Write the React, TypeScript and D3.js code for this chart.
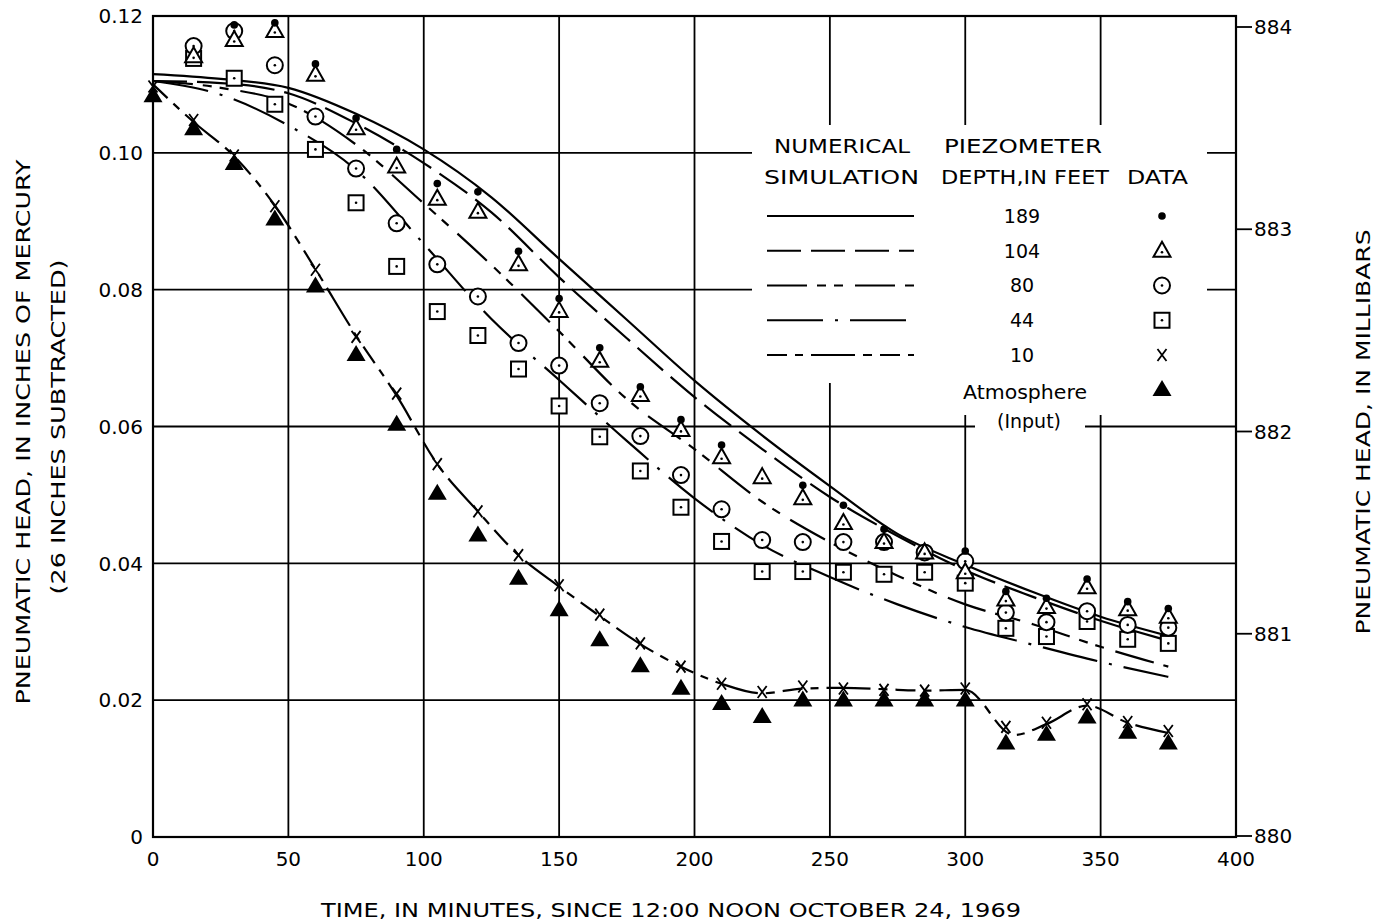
import { useEffect, useRef } from 'react'
import * as d3 from 'd3'

// observation times, minutes since noon
const times = [0, 15, 30, 45, 60, 75, 90, 105, 120, 135, 150, 165, 180, 195, 210, 225, 240, 255, 270, 285, 300, 315, 330, 345, 360, 375]

// piezometer data, inches of mercury (26 in. subtracted)
const atmosphere = [0.1084, 0.1036, 0.0985, 0.0904, 0.0806, 0.0706, 0.0604, 0.0503, 0.0442, 0.0379, 0.0333, 0.0289, 0.0251, 0.0218, 0.0196, 0.0177, 0.0201, 0.0201, 0.0201, 0.0201, 0.0201, 0.0138, 0.0151, 0.0176, 0.0154, 0.0138]
const depth10 = [0.1097, 0.1048, 0.0996, 0.0922, 0.0829, 0.0731, 0.0648, 0.0545, 0.0476, 0.0412, 0.0368, 0.0325, 0.0283, 0.0249, 0.0224, 0.0212, 0.0220, 0.0217, 0.0215, 0.0214, 0.0217, 0.0161, 0.0167, 0.0194, 0.0168, 0.0155]
const depth44 = [null, 0.1138, 0.1109, 0.1071, 0.1005, 0.0927, 0.0834, 0.0768, 0.0733, 0.0684, 0.0630, 0.0585, 0.0535, 0.0482, 0.0432, 0.0388, 0.0388, 0.0387, 0.0384, 0.0387, 0.0371, 0.0305, 0.0293, 0.0315, 0.0289, 0.0283]
const depth80 = [null, 0.1156, 0.1178, 0.1128, 0.1053, 0.0977, 0.0897, 0.0837, 0.0790, 0.0722, 0.0689, 0.0634, 0.0586, 0.0529, 0.0479, 0.0434, 0.0431, 0.0431, 0.0431, 0.0416, 0.0403, 0.0328, 0.0314, 0.0330, 0.0310, 0.0306]
const depth104 = [null, 0.1141, 0.1165, 0.1178, 0.1114, 0.1036, 0.0980, 0.0933, 0.0914, 0.0837, 0.0769, 0.0696, 0.0646, 0.0595, 0.0555, 0.0526, 0.0495, 0.0459, 0.0431, 0.0416, 0.0387, 0.0347, 0.0336, 0.0365, 0.0333, 0.0322]
const depth189 = [null, null, 0.1187, 0.1190, 0.1130, 0.1051, 0.1005, 0.0955, 0.0943, 0.0856, 0.0787, 0.0715, 0.0658, 0.0610, 0.0573, null, 0.0514, 0.0485, 0.0450, null, 0.0418, 0.0359, 0.0349, 0.0377, 0.0344, 0.0334]

// numerical simulation curves
const simTimes = [0, 25, 50, 75, 100, 125, 150, 175, 200, 225, 250, 275, 300, 325, 350, 375]
const sim189 = [0.1115, 0.1108, 0.1095, 0.1057, 0.1005, 0.0935, 0.0845, 0.0756, 0.0667, 0.0587, 0.0513, 0.0443, 0.0398, 0.0358, 0.0322, 0.0294]
const sim104 = [0.1105, 0.1102, 0.1087, 0.1043, 0.0985, 0.0913, 0.0818, 0.0729, 0.0643, 0.0567, 0.0497, 0.0440, 0.0390, 0.0351, 0.0316, 0.0287]
const sim80 = [0.1105, 0.1095, 0.1072, 0.1012, 0.0926, 0.0836, 0.0739, 0.0640, 0.0567, 0.0490, 0.0431, 0.0382, 0.0340, 0.0311, 0.0278, 0.0249]
const sim44 = [0.1105, 0.1085, 0.1040, 0.0975, 0.0867, 0.0757, 0.0668, 0.0579, 0.0495, 0.0427, 0.0380, 0.0340, 0.0307, 0.0281, 0.0256, 0.0234]
const sim10Times = [0, 15, 30, 45, 60, 75, 90, 105, 120, 135, 150, 165, 180, 195, 210, 225, 240, 255, 270, 285, 300, 318, 330, 345, 360, 375]
const sim10 = [0.1100, 0.1045, 0.0995, 0.0923, 0.0830, 0.0733, 0.0645, 0.0545, 0.0476, 0.0412, 0.0366, 0.0323, 0.0282, 0.0249, 0.0224, 0.0210, 0.0217, 0.0218, 0.0216, 0.0214, 0.0215, 0.0149, 0.0165, 0.0192, 0.0167, 0.0152]

const xTicks = [0, 50, 100, 150, 200, 250, 300, 350, 400]
const yTicks = [0, 0.02, 0.04, 0.06, 0.08, 0.10, 0.12]
const yTickLabels = ['0', '0.02', '0.04', '0.06', '0.08', '0.10', '0.12']
const mbTicks = [880, 881, 882, 883, 884]
const legendDepths = ['189', '104', '80', '44', '10']

const FONT = "'DejaVu Sans', 'Liberation Sans', sans-serif"

const App = () => {
  const svgRef = useRef(null)
  const W = 1380
  const H = 924
  const margin = { top: 16, right: 144, bottom: 87, left: 153 }
  const width = W - margin.left - margin.right
  const height = H - margin.top - margin.bottom

  useEffect(() => {
    const svg = d3.select(svgRef.current)
    svg.selectAll('*').remove()

    const x = d3.scaleLinear().domain([0, 400]).range([margin.left, margin.left + width])
    const y = d3.scaleLinear().domain([0, 0.12]).range([margin.top + height, margin.top])
    const yMb = d3.scaleLinear().domain([880, 884]).range([836, 27])
    const right = margin.left + width
    const bottom = margin.top + height

    svg.append('rect').attr('width', W).attr('height', H).attr('fill', 'white')

    // grid
    const grid = svg.append('g').attr('stroke', 'black').attr('stroke-width', 1.8)
    xTicks.slice(1, -1).forEach(t => {
      grid.append('line').attr('x1', x(t)).attr('x2', x(t)).attr('y1', margin.top).attr('y2', bottom)
    })
    yTicks.slice(1, -1).forEach(t => {
      grid.append('line').attr('x1', margin.left).attr('x2', right).attr('y1', y(t)).attr('y2', y(t))
    })

    // white area behind the legend
    const mask = svg.append('g').attr('fill', 'white')
    mask.append('rect').attr('x', 752).attr('y', 125).attr('width', 455).attr('height', 258)
    mask.append('rect').attr('x', 845).attr('y', 382).attr('width', 362).attr('height', 33)
    mask.append('rect').attr('x', 975).attr('y', 414).attr('width', 110).attr('height', 20)

    // frame
    svg.append('rect')
      .attr('x', margin.left).attr('y', margin.top)
      .attr('width', width).attr('height', height)
      .attr('fill', 'none').attr('stroke', 'black').attr('stroke-width', 2.2)

    // axis labels
    svg.append('g').selectAll('text').data(xTicks).join('text')
      .attr('x', d => x(d)).attr('y', bottom + 29)
      .attr('text-anchor', 'middle')
      .style('font-family', FONT).style('font-size', '20px')
      .text(d => d)

    svg.append('g').selectAll('text').data(yTicks).join('text')
      .attr('x', margin.left - 10).attr('y', d => y(d)).attr('dy', '0.36em')
      .attr('text-anchor', 'end')
      .style('font-family', FONT).style('font-size', '20px')
      .text((d, i) => yTickLabels[i])

    const mbAxis = svg.append('g')
    mbTicks.forEach(t => {
      mbAxis.append('line').attr('x1', right).attr('x2', right + 16)
        .attr('y1', yMb(t)).attr('y2', yMb(t)).attr('stroke', 'black').attr('stroke-width', 1.8)
      mbAxis.append('text').attr('x', right + 18).attr('y', yMb(t)).attr('dy', '0.36em')
        .style('font-family', FONT).style('font-size', '20px')
        .text(t)
    })

    svg.append('text')
      .attr('x', 671).attr('y', 917)
      .attr('text-anchor', 'middle')
      .attr('textLength', 700).attr('lengthAdjust', 'spacingAndGlyphs')
      .style('font-family', FONT).style('font-size', '19px')
      .text('TIME, IN MINUTES, SINCE 12:00 NOON OCTOBER 24, 1969')

    svg.append('text')
      .attr('transform', 'translate(30,432) rotate(-90)')
      .attr('text-anchor', 'middle')
      .attr('textLength', 545).attr('lengthAdjust', 'spacingAndGlyphs')
      .style('font-family', FONT).style('font-size', '19px')
      .text('PNEUMATIC HEAD, IN INCHES OF MERCURY')

    svg.append('text')
      .attr('transform', 'translate(65,427) rotate(-90)')
      .attr('text-anchor', 'middle')
      .attr('textLength', 335).attr('lengthAdjust', 'spacingAndGlyphs')
      .style('font-family', FONT).style('font-size', '19px')
      .text('(26 INCHES SUBTRACTED)')

    svg.append('text')
      .attr('transform', 'translate(1370,432) rotate(-90)')
      .attr('text-anchor', 'middle')
      .attr('textLength', 405).attr('lengthAdjust', 'spacingAndGlyphs')
      .style('font-family', FONT).style('font-size', '19px')
      .text('PNEUMATIC HEAD, IN MILLIBARS')

    // simulation curves
    const dashes = {
      s189: null,
      s104: '34,10',
      s80: '40,10,9,8,9,12',
      s44: '56,12,3,12',
      s10: '20,8,8,8,44,8,9,8'
    }
    const line = d3.line()
      .x(d => x(d[0]))
      .y(d => y(d[1]))
      .curve(d3.curveMonotoneX)

    const curves = [
      { pts: simTimes.map((t, i) => [t, sim189[i]]), dash: dashes.s189 },
      { pts: simTimes.map((t, i) => [t, sim104[i]]), dash: dashes.s104 },
      { pts: simTimes.map((t, i) => [t, sim80[i]]), dash: dashes.s80 },
      { pts: simTimes.map((t, i) => [t, sim44[i]]), dash: dashes.s44 },
      { pts: sim10Times.map((t, i) => [t, sim10[i]]), dash: dashes.s10 }
    ]
    curves.forEach(c => {
      svg.append('path')
        .datum(c.pts)
        .attr('fill', 'none')
        .attr('stroke', 'black')
        .attr('stroke-width', 2.2)
        .attr('stroke-dasharray', c.dash)
        .attr('d', line)
    })

    // markers
    const centerDot = (g, cx, cy) => g.append('circle').attr('cx', cx).attr('cy', cy).attr('r', 1.3).attr('fill', 'black')
    const markers = {
      dot: (g, cx, cy) => g.append('circle').attr('cx', cx).attr('cy', cy).attr('r', 3.8).attr('fill', 'black'),
      triangle: (g, cx, cy) => {
        g.append('path')
          .attr('d', `M${cx},${cy - 9}L${cx + 8.5},${cy + 6}L${cx - 8.5},${cy + 6}Z`)
          .attr('fill', 'white').attr('stroke', 'black').attr('stroke-width', 2)
        centerDot(g, cx, cy + 1.5)
      },
      circle: (g, cx, cy) => {
        g.append('circle').attr('cx', cx).attr('cy', cy).attr('r', 8)
          .attr('fill', 'white').attr('stroke', 'black').attr('stroke-width', 2)
        centerDot(g, cx, cy)
      },
      square: (g, cx, cy) => {
        g.append('rect').attr('x', cx - 7.5).attr('y', cy - 7.5).attr('width', 15).attr('height', 15)
          .attr('fill', 'white').attr('stroke', 'black').attr('stroke-width', 2)
        centerDot(g, cx, cy)
      },
      cross: (g, cx, cy) => {
        g.append('path')
          .attr('d', `M${cx - 4.5},${cy - 6}L${cx + 4.5},${cy + 6}M${cx + 4.5},${cy - 6}L${cx - 4.5},${cy + 6}`)
          .attr('stroke', 'black').attr('stroke-width', 1.8)
      },
      solidTriangle: (g, cx, cy) => g.append('path')
        .attr('d', `M${cx},${cy - 9}L${cx + 9.5},${cy + 7}L${cx - 9.5},${cy + 7}Z`)
        .attr('fill', 'black')
    }

    const series = [
      { values: depth44, marker: markers.square },
      { values: depth80, marker: markers.circle },
      { values: depth104, marker: markers.triangle },
      { values: depth189, marker: markers.dot },
      { values: atmosphere, marker: markers.solidTriangle },
      { values: depth10, marker: markers.cross }
    ]
    series.forEach(s => {
      const g = svg.append('g')
      s.values.forEach((v, i) => {
        if (v == null) return
        s.marker(g, x(times[i]), y(v))
      })
    })

    // legend
    const legend = svg.append('g').style('font-family', FONT).style('font-size', '19px')
    const headers = [
      { text: 'NUMERICAL', x: 774, y: 153, len: 136 },
      { text: 'PIEZOMETER', x: 944, y: 153, len: 158 },
      { text: 'SIMULATION', x: 764, y: 184, len: 155 },
      { text: 'DEPTH,IN FEET', x: 941, y: 184, len: 168 },
      { text: 'DATA', x: 1127, y: 184, len: 61 }
    ]
    headers.forEach(h => {
      legend.append('text').attr('x', h.x).attr('y', h.y)
        .attr('textLength', h.len).attr('lengthAdjust', 'spacingAndGlyphs')
        .text(h.text)
    })
    const rowY = d3.scalePoint().domain(legendDepths).range([216, 355])
    const legendDash = [dashes.s189, dashes.s104, dashes.s80, dashes.s44, dashes.s10]
    const legendMarks = [markers.dot, markers.triangle, markers.circle, markers.square, markers.cross]
    legendDepths.forEach((d, i) => {
      const ry = rowY(d)
      legend.append('line')
        .attr('x1', 767).attr('x2', 914).attr('y1', ry).attr('y2', ry)
        .attr('stroke', 'black').attr('stroke-width', 2.2)
        .attr('stroke-dasharray', legendDash[i])
      legend.append('text').attr('x', 1022).attr('y', ry).attr('dy', '0.36em')
        .attr('text-anchor', 'middle').text(d)
      legendMarks[i](legend, 1162, ry)
    })
    legend.append('text').attr('x', 1025).attr('y', 399).attr('text-anchor', 'middle')
      .attr('textLength', 124).attr('lengthAdjust', 'spacingAndGlyphs')
      .text('Atmosphere')
    legend.append('text').attr('x', 1029).attr('y', 428).attr('text-anchor', 'middle')
      .text('(Input)')
    markers.solidTriangle(legend, 1162, 389)
  }, [])

  return (
    <svg ref={svgRef} width={W} height={H} style={{ position: 'absolute', left: 0, top: 0, display: 'block' }}></svg>
  )
}

export default App
